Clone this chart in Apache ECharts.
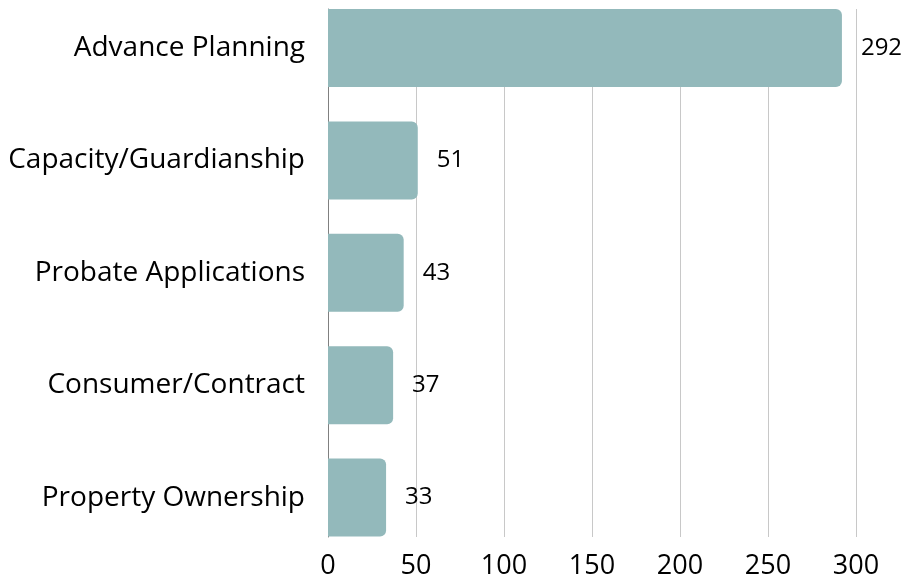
<!DOCTYPE html>
<html><head><meta charset="utf-8">
<script src="https://cdn.jsdelivr.net/npm/echarts@6/dist/echarts.min.js"></script>
<style>html,body{margin:0;padding:0;background:#fff}#c{width:905px;height:581px}</style>
</head><body><div id="c"></div>
<script>
const categories = ["Advance Planning","Capacity/Guardianship","Probate Applications","Consumer/Contract","Property Ownership"];
const values = [292,51,43,37,33];
const xMin = 0, xMax = 300, xStep = 50;
const font = "Open Sans";
const chart = echarts.init(document.getElementById('c'));
chart.setOption({
  animation:false,
  grid:[
    {left:328,width:528,top:9,height:528,outerBoundsMode:'none',containLabel:false},
    {left:328,width:528,top:-8.2,height:562,outerBoundsMode:'none',containLabel:false}
  ],
  xAxis:[
    {gridIndex:0,type:'value',min:xMin,max:xMax,interval:xStep,
     axisLine:{show:false},axisTick:{show:false},
     splitLine:{lineStyle:{color:'#c8c8c8',width:1}},
     axisLabel:{fontFamily:font,fontSize:27,color:'#000',margin:16}},
    {gridIndex:1,type:'value',min:xMin,max:xMax,show:false}
  ],
  yAxis:[
    {gridIndex:0,type:'category',data:categories,inverse:true,
     axisLine:{show:true,lineStyle:{color:'#808080',width:1}},axisTick:{show:false},axisLabel:{show:false},splitLine:{show:false}},
    {gridIndex:1,type:'category',data:categories,inverse:true,
     axisLine:{show:false},axisTick:{show:false},
     axisLabel:{fontFamily:font,fontSize:28,color:'#000',margin:23}}
  ],
  series:[{
    type:'bar',xAxisIndex:1,yAxisIndex:1,data:values,barWidth:78,
    itemStyle:{color:'#93b9bb',borderRadius:[0,6,6,0]},
    label:{show:true,position:'right',distance:19,fontFamily:font,fontSize:24,color:'#000'}
  }]
});
</script></body></html>
